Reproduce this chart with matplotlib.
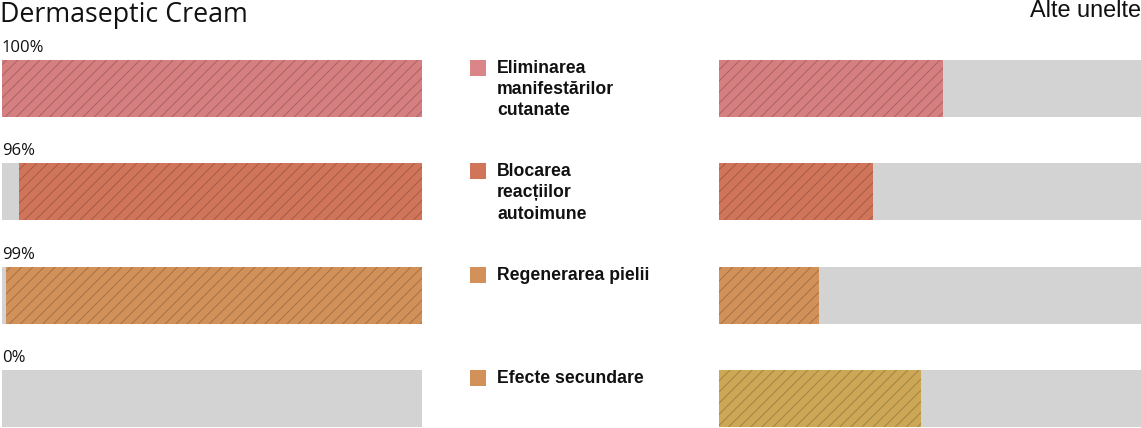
import matplotlib.pyplot as plt
import matplotlib.transforms as mtransforms
from matplotlib.patches import Rectangle
from matplotlib.colors import to_rgb

W, H = 1141, 428

# data
categories = [
    "Eliminarea\nmanifestărilor\ncutanate",
    "Blocarea\nreacțiilor\nautoimune",
    "Regenerarea pielii",
    "Efecte secundare",
]
cream_vals = [100, 96, 99, 0]
cream_labels = ["100%", "96%", "99%", "0%"]
other_vals = [53, 36.6, 23.8, 47.8]
bar_colors = ["#d67f81", "#d1755a", "#d3915a", "#cca856"]
legend_colors = ["#da8588", "#d1755a", "#d3915a", "#d3915a"]
GRAY = "#d3d3d3"

plt.rcParams['hatch.linewidth'] = 0.7


def darker(c, k=0.6):
    r, g, b = to_rgb(c)
    return (r * k, g * k, b * k, 0.55)


def fx(px):
    return px / W


def fy(py):
    return 1 - py / H


fig = plt.figure(figsize=(W / 100, H / 100), dpi=100)

pitch = 103.33
h = 57 / pitch
bottom = fy(427)
height = 367 / H

axL = fig.add_axes([fx(2), bottom, 420 / W, height])
axR = fig.add_axes([fx(719), bottom, 422 / W, height])

for ax in (axL, axR):
    ax.set_xlim(0, 100)
    ax.set_ylim(3 + h / 2, -h / 2)
    ax.axis('off')

ys = range(len(categories))

# left panel: bars grow from the right
axL.barh(ys, [100] * 4, height=h, color=GRAY, linewidth=0)
for i, v in enumerate(cream_vals):
    if v > 0:
        axL.barh(i, v, left=100 - v, height=h, color=bar_colors[i],
                 edgecolor=darker(bar_colors[i]), hatch='///', linewidth=0)
    axL.text(0, i - h / 2 - 0.077, cream_labels[i], ha='left', va='baseline',
             fontsize=12, family='Open Sans', color='#111111')

# right panel: bars grow from the left
axR.barh(ys, [100] * 4, height=h, color=GRAY, linewidth=0)
for i, v in enumerate(other_vals):
    axR.barh(i, v, height=h, color=bar_colors[i],
             edgecolor=darker(bar_colors[i]), hatch='///', linewidth=0)

# titles
fig.text(0, fy(22), "Dermaseptic Cream", ha='left', va='baseline',
         fontsize=19.3, family='Open Sans', color='#111111')
fig.text(1.0, fy(17), "Alte unelte", ha='right', va='baseline',
         fontsize=16.9, family='Liberation Sans', color='#111111')

# legend in the middle
tr = mtransforms.blended_transform_factory(fig.transFigure, axL.transData)
sq = 16 / pitch
for i, lab in enumerate(categories):
    y0 = i - h / 2
    fig.add_artist(Rectangle((fx(470), y0), 16 / W, sq, transform=tr,
                             facecolor=legend_colors[i], linewidth=0))
    fig.text(fx(497), y0, lab, transform=tr, ha='left', va='top',
             fontsize=12.7, fontweight='bold', family='Liberation Sans',
             linespacing=1.32, color='#111111')

fig.savefig("out.png", dpi=100)
